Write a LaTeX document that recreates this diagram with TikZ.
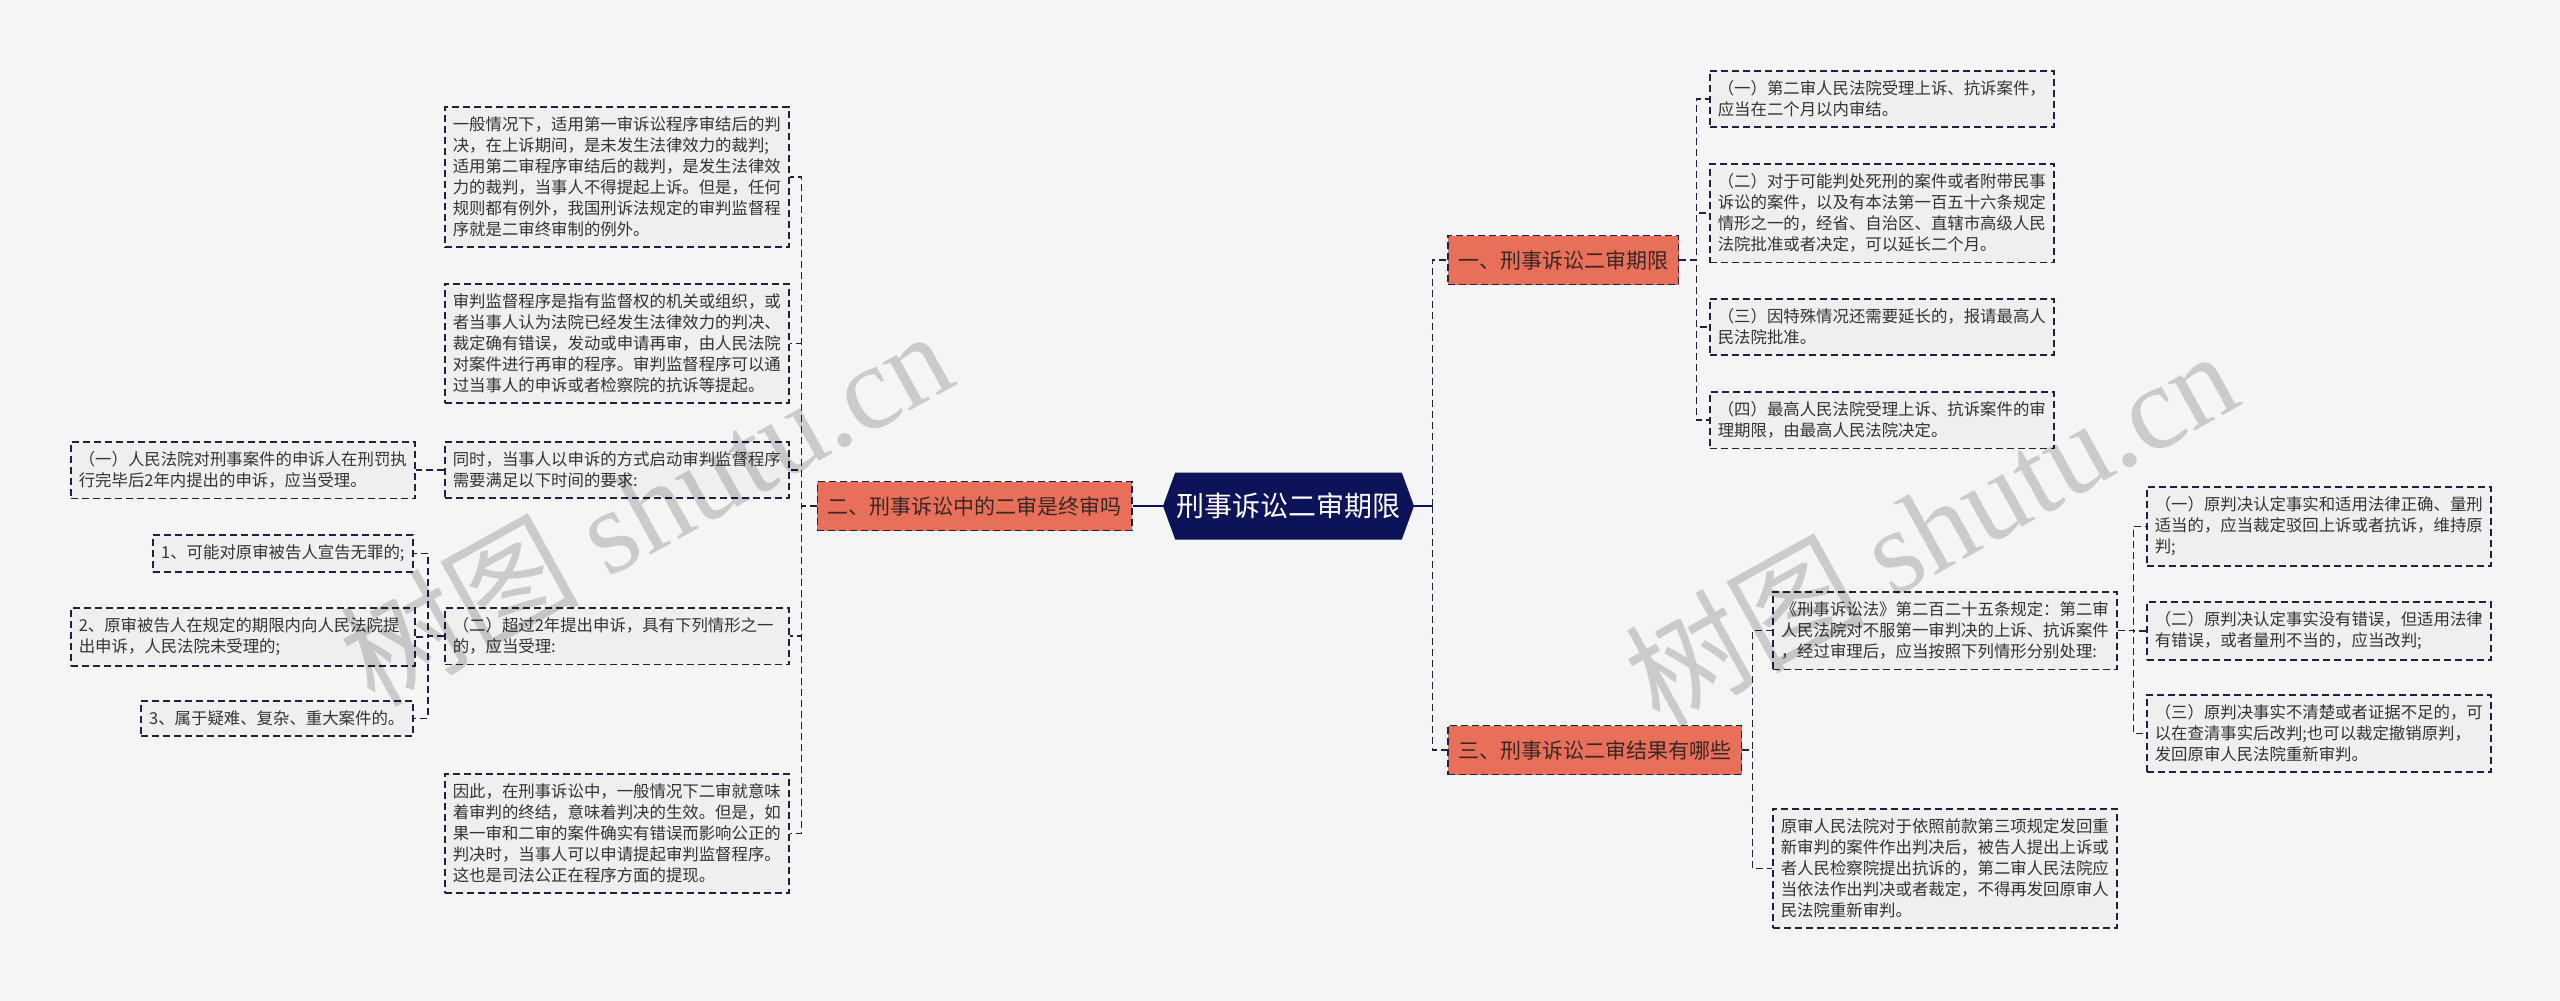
\documentclass[tikz,border=0pt]{standalone}
\usepackage{fontspec}
\setmainfont{Noto Sans CJK SC}
\newfontfamily\cjk{Noto Sans CJK SC}
\newfontfamily\wmlatin{Liberation Serif}
\usetikzlibrary{positioning,shapes.symbols}

\definecolor{pagebg}{HTML}{F5F5F5}
\definecolor{rootfill}{HTML}{0D1358}
\definecolor{linecol}{HTML}{1E2142}
\definecolor{branchfill}{HTML}{E8705A}
\definecolor{branchtext}{HTML}{3A2624}
\definecolor{leaffill}{HTML}{EFEFEF}
\definecolor{leaftext}{HTML}{333333}

\begin{document}
\begin{tikzpicture}[x=0.5pt,y=-0.5pt]
\tikzset{
  rootnode/.style={signal,signal to=west and east,signal pointer angle=140,fill=rootfill,text=white,
    minimum width=125.5pt,minimum height=33.5pt,inner sep=0pt,font=\cjk\fontsize{14}{16}\selectfont},
  branchnode/.style={draw=linecol,line width=0.8pt,dash pattern=on 3.5pt off 2pt,fill=branchfill,text=branchtext,
    minimum height=24.5pt,inner xsep=5.2pt,font=\cjk\fontsize{10.5}{12}\selectfont},
  leafnode/.style={draw=linecol,line width=0.8pt,dash pattern=on 3.5pt off 2pt,fill=leaffill,text=leaftext,
    anchor=north west,align=left,text width=164pt,inner xsep=4pt,inner ysep=5pt,font=\cjk\fontsize{8.2}{10.5}\selectfont},
  linkedge/.style={draw=linecol,line width=0.8pt,dash pattern=on 3.5pt off 2pt},
  rootedge/.style={draw=rootfill,line width=1.2pt},
  watermark/.style={text=black,text opacity=0.17,font=\fontsize{60}{60}\selectfont,rotate=29}
}
\fill[pagebg] (0,0) rectangle (2560,1001);
\useasboundingbox (0,0) rectangle (2560,1001);

% centre
\node[rootnode] (n_root) at (1288.5,506) {刑事诉讼二审期限};

% main branches
\node[branchnode,anchor=east] (n_left) at (1133,506) {二、刑事诉讼中的二审是终审吗};
\node[branchnode,anchor=west] (n_limit) at (1447,260) {一、刑事诉讼二审期限};
\node[branchnode,anchor=west] (n_result) at (1447,750) {三、刑事诉讼二审结果有哪些};

% left side
\node[leafnode] (n_L1) at (444,106) {一般情况下，适用第一审诉讼程序审结后的判\\决，在上诉期间，是未发生法律效力的裁判;\\适用第二审程序审结后的裁判，是发生法律效\\力的裁判，当事人不得提起上诉。但是，任何\\规则都有例外，我国刑诉法规定的审判监督程\\序就是二审终审制的例外。};
\node[leafnode] (n_L2) at (444,283) {审判监督程序是指有监督权的机关或组织，或\\者当事人认为法院已经发生法律效力的判决、\\裁定确有错误，发动或申请再审，由人民法院\\对案件进行再审的程序。审判监督程序可以通\\过当事人的申诉或者检察院的抗诉等提起。};
\node[leafnode] (n_L3) at (444,441) {同时，当事人以申诉的方式启动审判监督程序\\需要满足以下时间的要求:};
\node[leafnode] (n_L4) at (444,607) {（二）超过2年提出申诉，具有下列情形之一\\的，应当受理:};
\node[leafnode] (n_L5) at (444,773) {因此，在刑事诉讼中，一般情况下二审就意味\\着审判的终结，意味着判决的生效。但是，如\\果一审和二审的案件确实有错误而影响公正的\\判决时，当事人可以申请提起审判监督程序。\\这也是司法公正在程序方面的提现。};

\node[leafnode] (n_F1) at (70,441) {（一）人民法院对刑事案件的申诉人在刑罚执\\行完毕后2年内提出的申诉，应当受理。};
\node[leafnode,anchor=north east,text width=122pt] (n_F2) at (414,534) {1、可能对原审被告人宣告无罪的;};
\node[leafnode] (n_F3) at (70,607) {2、原审被告人在规定的期限内向人民法院提\\出申诉，人民法院未受理的;};
\node[leafnode,anchor=north east,text width=128pt] (n_F4) at (414,700) {3、属于疑难、复杂、重大案件的。};

% right side, time limits
\node[leafnode] (n_R1) at (1709,70) {（一）第二审人民法院受理上诉、抗诉案件，\\应当在二个月以内审结。};
\node[leafnode] (n_R2) at (1709,163) {（二）对于可能判处死刑的案件或者附带民事\\诉讼的案件，以及有本法第一百五十六条规定\\情形之一的，经省、自治区、直辖市高级人民\\法院批准或者决定，可以延长二个月。};
\node[leafnode] (n_R3) at (1709,298) {（三）因特殊情况还需要延长的，报请最高人\\民法院批准。};
\node[leafnode] (n_R4) at (1709,391) {（四）最高人民法院受理上诉、抗诉案件的审\\理期限，由最高人民法院决定。};

% right side, results
\node[leafnode] (n_B1) at (1772,591) {《刑事诉讼法》第二百二十五条规定：第二审\\人民法院对不服第一审判决的上诉、抗诉案件\\，经过审理后，应当按照下列情形分别处理:};
\node[leafnode] (n_B2) at (1772,808) {原审人民法院对于依照前款第三项规定发回重\\新审判的案件作出判决后，被告人提出上诉或\\者人民检察院提出抗诉的，第二审人民法院应\\当依法作出判决或者裁定，不得再发回原审人\\民法院重新审判。};
\node[leafnode] (n_C1) at (2146,486) {（一）原判决认定事实和适用法律正确、量刑\\适当的，应当裁定驳回上诉或者抗诉，维持原\\判;};
\node[leafnode] (n_C2) at (2146,601) {（二）原判决认定事实没有错误，但适用法律\\有错误，或者量刑不当的，应当改判;};
\node[leafnode] (n_C3) at (2146,694) {（三）原判决事实不清楚或者证据不足的，可\\以在查清事实后改判;也可以裁定撤销原判，\\发回原审人民法院重新审判。};

% connectors
\draw[rootedge] (n_root.west) -- (n_left.east);
\draw[rootedge] (n_root.east) -- ++(9pt,0);
\draw[linkedge] ([xshift=9pt]n_root.east) |- (n_limit.west);
\draw[linkedge] ([xshift=9pt]n_root.east) |- (n_result.west);

\foreach \leaf in {L1,L2,L3,L4,L5}
  \draw[linkedge] (n_left.west) -- ++(-7.5pt,0) |- (n_\leaf.east);
\draw[linkedge] (n_L3.west) -- ++(-8pt,0) |- (n_F1.east);
\foreach \leaf in {F2,F3,F4}
  \draw[linkedge] (n_L4.west) -- ++(-8pt,0) |- (n_\leaf.east);

\foreach \leaf in {R1,R2,R3,R4}
  \draw[linkedge] (n_limit.east) -- ++(8.5pt,0) |- (n_\leaf.west);
\foreach \leaf in {B1,B2}
  \draw[linkedge] (n_result.east) -- ++(5pt,0) |- (n_\leaf.west);
\foreach \leaf in {C1,C2,C3}
  \draw[linkedge] (n_B1.east) -- ++(8pt,0) |- (n_\leaf.west);

% watermark
\node[watermark] (n_wm1) at (645,506) {树图 {\wmlatin shutu.cn}};
\node[watermark] (n_wm2) at (1930,526) {树图 {\wmlatin shutu.cn}};
\end{tikzpicture}
\end{document}
